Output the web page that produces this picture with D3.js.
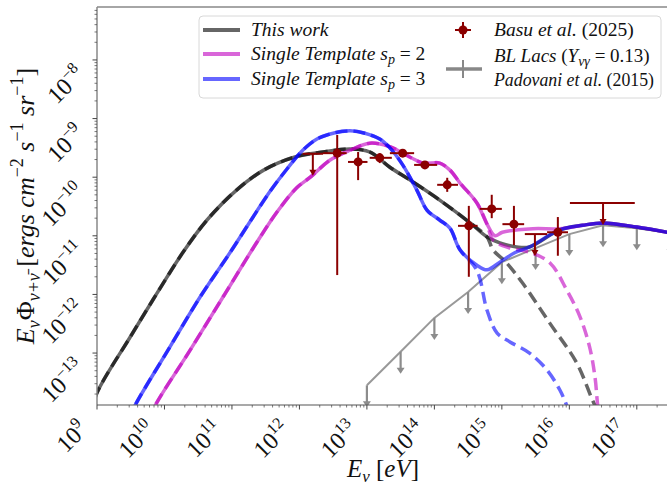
<!DOCTYPE html>
<html>
<head>
<meta charset="utf-8">
<script src="https://cdn.jsdelivr.net/npm/d3@7"></script>
<style>
body { margin: 0; background: #fff; }
text { font-family: "Liberation Serif", "Times New Roman", serif; fill: #111; }
</style>
</head>
<body>
<svg id="chart" width="667" height="486"></svg>
<script>
// tick labels (powers of ten)
const xTickExps = [9, 10, 11, 12, 13, 14, 15, 16, 17];
const yTickExps = [-13, -12, -11, -10, -9, -8];

// This work: component (dashed) and the total once BL Lacs add in
const thisWorkComp = [
    [8.0e8, 8.5e-15], [1e9, 2.09e-14], [3.09e9, 1.86e-13], [7.76e9, 1.05e-12], [1.86e10, 5.13e-12],
    [4.27e10, 1.86e-11], [1.17e11, 6.03e-11], [2.95e11, 1.32e-10], [8.32e11, 2.19e-10],
    [2.24e12, 2.69e-10], [5.62e12, 3.02e-10], [1.10e13, 2.69e-10], [2.19e13, 1.48e-10],
    [4.37e13, 8.91e-11], [1.20e14, 4.07e-11], [3.39e14, 1.66e-11], [6.03e14, 9.55e-12],
    [7.41e14, 5.75e-12], [1.17e15, 3.47e-12], [2.04e15, 1.55e-12], [5.13e15, 3.24e-13],
    [1.29e16, 6.76e-14], [2.14e16, 1.70e-14], [2.57e16, 1.07e-14]
];
const thisWorkTotalTail = [
    [9.33e14, 7.59e-12], [1.66e15, 6.46e-12], [2.57e15, 6.46e-12]
];

// Single template s_p = 2
const sp2Comp = [
    [6.17e9, 7.0e-15], [6.76e9, 1.07e-14], [2.40e10, 1.12e-13], [7.41e10, 9.12e-13],
    [2.34e11, 7.76e-12], [4.68e11, 2.57e-11], [9.12e11, 6.61e-11],
    [1.45e12, 1.0e-10], [2.82e12, 1.95e-10], [5.62e12, 2.88e-10], [1.10e13, 3.80e-10],
    [2.19e13, 3.31e-10], [4.37e13, 2.19e-10], [6.76e13, 1.74e-10], [1.20e14, 1.74e-10],
    [1.70e14, 1.32e-10], [2.40e14, 7.94e-11], [4.27e14, 3.63e-11], [6.03e14, 1.58e-11],
    [7.41e14, 8.51e-12], [1.32e15, 6.17e-12], [2.57e15, 5.25e-12], [5.13e15, 3.47e-12],
    [9.12e15, 1.20e-12], [1.45e16, 4.07e-13], [2.0e16, 1.26e-13], [2.40e16, 3.89e-14],
    [2.63e16, 1.29e-14], [2.82e16, 7.24e-15]
];
const sp2TotalTail = [
    [7.94e14, 1.0e-11], [1.02e15, 1.15e-11], [2.88e15, 1.32e-11], [7.24e15, 1.32e-11]
];

// Single template s_p = 3
const sp3Comp = [
    [3.0e9, 7.0e-15], [3.39e9, 1.07e-14], [1.20e10, 1.26e-13], [3.39e10, 9.12e-13],
    [9.33e10, 5.13e-12], [3.63e11, 5.62e-11], [6.76e11, 1.45e-10],
    [1.12e12, 2.88e-10], [1.82e12, 4.47e-10], [3.16e12, 5.62e-10], [5.62e12, 6.17e-10],
    [9.33e12, 5.62e-10], [1.55e13, 4.47e-10], [2.19e13, 3.16e-10], [3.39e13, 1.62e-10],
    [5.50e13, 6.03e-11], [7.76e13, 2.75e-11], [1.20e14, 1.86e-11], [1.70e14, 1.35e-11],
    [2.40e14, 5.75e-12], [4.27e14, 2.57e-12], [6.03e14, 5.37e-13], [8.51e14, 2.19e-13],
    [1.32e15, 1.55e-13], [2.57e15, 1.0e-13], [4.68e15, 5.13e-14], [7.24e15, 2.34e-14],
    [9.12e15, 1.29e-14], [1.10e16, 7.24e-15]
];
const sp3TotalTail = [
    [4.27e14, 3.16e-12], [6.03e14, 2.63e-12], [9.33e14, 3.55e-12], [1.55e15, 5.13e-12],
    [2.57e15, 6.46e-12]
];

// high energy part where all totals sit on the BL Lac flux
const sharedTail = [
    [7.24e15, 1.26e-11], [1.58e16, 1.51e-11], [3.16e16, 1.66e-11], [1e17, 1.41e-11],
    [3.16e17, 1.12e-11]
];

// BL Lacs (Padovani et al. 2015), upper limits
const blLacE = [1e13, 3.16e13, 1e14, 3.16e14, 1e15, 3.16e15, 1e16, 3.16e16, 1e17, 3.16e17];
const blLacF = [2.82e-14, 1.05e-13, 3.98e-13, 1.10e-12, 3.55e-12, 6.17e-12, 1.07e-11, 1.51e-11, 1.35e-11, 1.12e-11];

// Basu et al. (2025): E, F, xlo, xhi, ylo, yhi, upper limit?
const basuE   = [1.58e12, 3.63e12, 7.41e12, 1.55e13, 3.39e13, 7.24e13, 1.55e14, 3.24e14, 7.08e14, 1.51e15, 3.09e15, 6.76e15, 3.16e16];
const basuF   = [2.51e-10, 2.57e-10, 1.82e-10, 2.14e-10, 2.57e-10, 1.62e-10, 7.41e-11, 1.48e-11, 2.88e-11, 1.58e-11, 1.07e-11, 1.15e-11, 3.63e-11];
const basuXlo = [1.12e12, 2.24e12, 5.25e12, 1.10e13, 2.19e13, 5.01e13, 1.10e14, 2.24e14, 4.68e14, 1.02e15, 2.19e15, 4.68e15, 1.02e16];
const basuXhi = [2.24e12, 5.01e12, 1.02e13, 2.34e13, 5.01e13, 1.10e14, 2.24e14, 4.37e14, 1.0e15, 2.14e15, 4.68e15, 9.55e15, 9.33e16];
const basuYlo = [null, 2.14e-12, 8.91e-11, 1.74e-10, 2.29e-10, 1.48e-10, 5.62e-11, 2.0e-12, 2.0e-11, 6.92e-12, null, 4.57e-12, null];
const basuYhi = [null, 5.25e-10, 2.69e-10, 2.57e-10, 2.82e-10, 1.78e-10, 9.77e-11, 3.24e-11, 5.01e-11, 3.24e-11, null, 2.09e-11, null];
const basuUL  = [true, false, false, false, false, false, false, false, false, false, true, false, true];

const W = 667, H = 486;
const margin = { left: 97, top: 7, right: -2, bottom: 81 };
const svg = d3.select('#chart');

let x = d3.scaleLog().domain([1e9, 3e17]).range([margin.left, W - margin.right]);
let y = d3.scaleLog().domain([1.3e-14, 8e-8]).range([H - margin.bottom, margin.top]);

svg.append('clipPath').attr('id', 'plotclip')
    .append('rect')
    .attr('x', margin.left).attr('y', margin.top)
    .attr('width', W - margin.right - margin.left)
    .attr('height', H - margin.bottom - margin.top);

let plot = svg.append('g').attr('clip-path', 'url(#plotclip)');

let line = d3.line()
    .x(d => x(d[0]))
    .y(d => y(d[1]))
    .curve(d3.curveCatmullRom.alpha(0.5));

const ARROW = 22;
function downArrow (g, px, py, color, width, head) {
    g.append('line')
        .attr('x1', px).attr('x2', px)
        .attr('y1', py).attr('y2', py + ARROW - 3)
        .attr('stroke', color).attr('stroke-width', width);
    g.append('path')
        .attr('d', 'M' + (px - head) + ',' + (py + ARROW - 6) + 'L' + (px + head) + ',' + (py + ARROW - 6) + 'L' + px + ',' + (py + ARROW) + 'Z')
        .attr('fill', color);
}

// BL Lacs
let bl = plot.append('g');
let blPts = blLacE.map((e, i) => [e, blLacF[i]]);
bl.append('path')
    .attr('d', d3.line().x(d => x(d[0])).y(d => y(d[1]))(blPts))
    .attr('fill', 'none')
    .attr('stroke', '#999')
    .attr('stroke-width', 2);
blPts.forEach(d => downArrow(bl, x(d[0]), y(d[1]), '#8c8c8c', 2.2, 4));

// model curves: dashed component and solid total
let models = [
    { comp: thisWorkComp, cut: 6.1e14, tail: thisWorkTotalTail.concat(sharedTail), color: '#000000' },
    { comp: sp2Comp, cut: 6.1e14, tail: sp2TotalTail.concat(sharedTail.filter(d => d[0] > 1e16)), color: '#bf00bf' },
    { comp: sp3Comp, cut: 2.5e14, tail: sp3TotalTail.concat(sharedTail), color: '#0000ff' }
];

models.forEach(m => {
    let total = m.comp.filter(d => d[0] <= m.cut).concat(m.tail);
    plot.append('path')
        .attr('d', line(total))
        .attr('fill', 'none')
        .attr('stroke', m.color)
        .attr('stroke-opacity', 0.6)
        .attr('stroke-width', 3.5);
    plot.append('path')
        .attr('d', line(m.comp))
        .attr('fill', 'none')
        .attr('stroke', m.color)
        .attr('stroke-opacity', 0.6)
        .attr('stroke-width', 3.5)
        .attr('stroke-dasharray', '12,6');
});

// Basu et al. points
const RED = '#8b0000';
let basu = plot.append('g');
basuE.forEach((e, i) => {
    let px = x(e), py = y(basuF[i]);
    basu.append('line')
        .attr('x1', x(basuXlo[i])).attr('x2', x(basuXhi[i]))
        .attr('y1', py).attr('y2', py)
        .attr('stroke', RED).attr('stroke-width', 2);
    if (basuUL[i]) {
        downArrow(basu, px, py, RED, 2, 3.5);
    } else {
        basu.append('line')
            .attr('x1', px).attr('x2', px)
            .attr('y1', y(basuYlo[i])).attr('y2', y(basuYhi[i]))
            .attr('stroke', RED).attr('stroke-width', 2);
        basu.append('circle')
            .attr('cx', px).attr('cy', py).attr('r', 4.5)
            .attr('fill', RED);
    }
});

// axes frame
let axisColor = '#888';
let x0 = margin.left, x1 = W - margin.right, y0 = H - margin.bottom, y1 = margin.top;
svg.append('line').attr('x1', x0).attr('x2', x1).attr('y1', y1).attr('y2', y1)
    .attr('stroke', axisColor).attr('stroke-width', 1.5);
svg.append('line').attr('x1', x0).attr('x2', x0).attr('y1', y0).attr('y2', y1)
    .attr('stroke', axisColor).attr('stroke-width', 1.5);
svg.append('line').attr('x1', x0).attr('x2', x1).attr('y1', y0).attr('y2', y0)
    .attr('stroke', '#555').attr('stroke-width', 1.2);

// ticks
let tickColor = '#444';
let xMinor = [], yMinor = [];
for (let d = 8; d <= 17; d++) {
    for (let k = 2; k <= 9; k++) {
        let v = k * Math.pow(10, d);
        if (v > 1e9 && v < 3e17) xMinor.push(v);
    }
}
for (let d = -15; d <= -8; d++) {
    for (let k = 2; k <= 9; k++) {
        let v = k * Math.pow(10, d);
        if (v > 1.3e-14 && v < 8e-8) yMinor.push(v);
    }
}
xMinor.forEach(v => svg.append('line')
    .attr('x1', x(v)).attr('x2', x(v)).attr('y1', y0).attr('y2', y0 + 2.5)
    .attr('stroke', tickColor).attr('stroke-width', 0.7));
yMinor.forEach(v => svg.append('line')
    .attr('x1', x0 - 2.5).attr('x2', x0).attr('y1', y(v)).attr('y2', y(v))
    .attr('stroke', tickColor).attr('stroke-width', 0.7));

function powLabel (t, exp) {
    t.append('tspan').text('10');
    t.append('tspan').attr('dy', -10).attr('font-size', 16)
        .text(exp < 0 ? '\u2212' + (-exp) : String(exp));
}

xTickExps.forEach(e => {
    let px = x(Math.pow(10, e));
    svg.append('line').attr('x1', px).attr('x2', px).attr('y1', y0).attr('y2', y0 + 4.5)
        .attr('stroke', tickColor).attr('stroke-width', 1);
    let t = svg.append('text')
        .attr('font-size', 24)
        .attr('text-anchor', 'end')
        .attr('transform', 'translate(' + (px - 8) + ',' + (y0 + 26) + ') rotate(-45)');
    powLabel(t, e);
});

yTickExps.forEach(e => {
    let py = y(Math.pow(10, e));
    svg.append('line').attr('x1', x0 - 4.5).attr('x2', x0).attr('y1', py).attr('y2', py)
        .attr('stroke', tickColor).attr('stroke-width', 1);
    let t = svg.append('text')
        .attr('font-size', 24)
        .attr('text-anchor', 'end')
        .attr('transform', 'translate(' + (x0 - 11) + ',' + (py + 16) + ') rotate(-45)');
    powLabel(t, e);
});

// axis labels
let xl = svg.append('text')
    .attr('x', (x0 + x1) / 2).attr('y', 477)
    .attr('text-anchor', 'middle')
    .attr('font-size', 25);
xl.append('tspan').attr('font-style', 'italic').text('E');
xl.append('tspan').attr('font-style', 'italic').attr('font-size', 17).attr('dy', 5).text('\u03bd');
xl.append('tspan').attr('dy', -5).text(' [');
xl.append('tspan').attr('font-style', 'italic').text('eV');
xl.append('tspan').text(']');

let yl = svg.append('text')
    .attr('text-anchor', 'middle')
    .attr('font-size', 26)
    .attr('transform', 'translate(34,206) rotate(-90)');
yl.append('tspan').attr('font-style', 'italic').text('E');
yl.append('tspan').attr('font-style', 'italic').attr('font-size', 18).attr('dy', 6).text('\u03bd');
yl.append('tspan').attr('dy', -6).text('\u03a6');
yl.append('tspan').attr('font-style', 'italic').attr('font-size', 18).attr('dy', 6).text('\u03bd+\u03bd\u0304');
yl.append('tspan').attr('dy', -6).text(' [');
yl.append('tspan').attr('font-style', 'italic').text('ergs cm');
yl.append('tspan').attr('font-size', 18).attr('dy', -11).text('\u22122');
yl.append('tspan').attr('dy', 11).attr('font-style', 'italic').text(' s');
yl.append('tspan').attr('font-size', 18).attr('dy', -11).text('\u22121');
yl.append('tspan').attr('dy', 11).attr('font-style', 'italic').text(' sr');
yl.append('tspan').attr('font-size', 18).attr('dy', -11).text('\u22121');
yl.append('tspan').attr('dy', 11).text(']');

// legend
let lg = svg.append('g');
lg.append('rect')
    .attr('x', 199).attr('y', 16).attr('width', 462).attr('height', 82)
    .attr('rx', 4)
    .attr('fill', '#fff').attr('fill-opacity', 0.85)
    .attr('stroke', '#d8d8d8');

let legendLines = [
    { color: '#000000', label: 'This work', sub: null, yy: 30 },
    { color: '#bf00bf', label: 'Single Template ', sub: '2', yy: 54 },
    { color: '#0000ff', label: 'Single Template ', sub: '3', yy: 79 }
];
legendLines.forEach(l => {
    lg.append('line').attr('x1', 203).attr('x2', 240).attr('y1', l.yy).attr('y2', l.yy)
        .attr('stroke', l.color).attr('stroke-opacity', 0.6).attr('stroke-width', 4);
    let t = lg.append('text').attr('x', 251).attr('y', l.yy + 6).attr('font-size', 19.5)
        .attr('font-style', 'italic');
    t.append('tspan').text(l.label);
    if (l.sub) {
        t.append('tspan').text('s');
        t.append('tspan').attr('font-size', 14).attr('dy', 4).text('p');
        t.append('tspan').attr('dy', -4).attr('font-style', 'normal').text(' = ' + l.sub);
    }
});

// Basu handle
lg.append('line').attr('x1', 455).attr('x2', 471).attr('y1', 30).attr('y2', 30)
    .attr('stroke', RED).attr('stroke-width', 2);
lg.append('line').attr('x1', 463).attr('x2', 463).attr('y1', 22).attr('y2', 38)
    .attr('stroke', RED).attr('stroke-width', 2);
lg.append('circle').attr('cx', 463).attr('cy', 30).attr('r', 4.5).attr('fill', RED);
let tb = lg.append('text').attr('x', 494).attr('y', 36).attr('font-size', 19.5);
tb.append('tspan').attr('font-style', 'italic').text('Basu et al.');
tb.append('tspan').text(' (2025)');

// BL Lac handle
lg.append('line').attr('x1', 446).attr('x2', 482).attr('y1', 69).attr('y2', 69)
    .attr('stroke', '#888').attr('stroke-width', 3.5);
lg.append('line').attr('x1', 463).attr('x2', 463).attr('y1', 60).attr('y2', 78)
    .attr('stroke', '#888').attr('stroke-width', 2);
let tl = lg.append('text').attr('x', 494).attr('y', 62).attr('font-size', 19);
tl.append('tspan').attr('font-style', 'italic').text('BL Lacs ');
tl.append('tspan').text('(');
tl.append('tspan').attr('font-style', 'italic').text('Y');
tl.append('tspan').attr('font-style', 'italic').attr('font-size', 14).attr('dy', 4).text('\u03bd\u03b3');
tl.append('tspan').attr('dy', -4).text(' = 0.13)');
let tp = lg.append('text').attr('x', 494).attr('y', 86).attr('font-size', 18)
    .attr('textLength', 160).attr('lengthAdjust', 'spacingAndGlyphs');
tp.append('tspan').attr('font-style', 'italic').text('Padovani et al.');
tp.append('tspan').text(' (2015)');
</script>
</body>
</html>
